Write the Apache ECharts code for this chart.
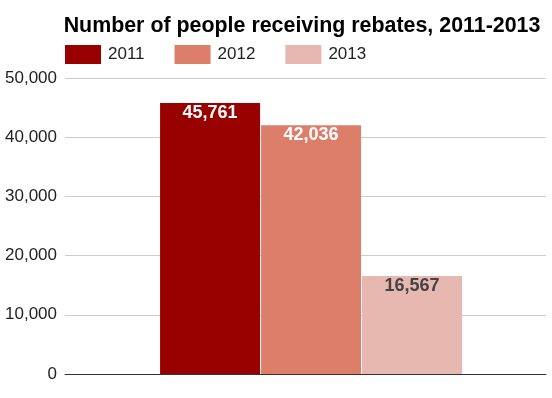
<!DOCTYPE html>
<html>
<head>
<meta charset="utf-8">
<script src="https://cdn.jsdelivr.net/npm/echarts@6/dist/echarts.min.js"></script>
<style>
  html, body { margin: 0; padding: 0; background: #fff; }
  #main { width: 552px; height: 398px; }
</style>
</head>
<body>
<div id="main"></div>
<script>
var categories = [''];
var seriesNames = ['2011', '2012', '2013'];
var values2011 = [45761];
var values2012 = [42036];
var values2013 = [16567];
var yTicks = [0, 10000, 20000, 30000, 40000, 50000];

var colorList = ['#990000', '#dd7e6b', '#e6b8af'];
var labelColors = ['#ffffff', '#ffffff', '#444444'];
var allValues = [values2011, values2012, values2013];

function fmt(v) {
  return v.toString().replace(/\B(?=(\d{3})+(?!\d))/g, ',');
}

var myChart = echarts.init(document.getElementById('main'));

// empty narrow slot so the bar group sits a bit right of centre, as in the original
var series = [{
  name: 'pad',
  type: 'bar',
  data: [null],
  barWidth: 11,
  barGap: '1%',
  silent: true
}];
for (var i = 0; i < seriesNames.length; i++) {
  series.push({
    name: seriesNames[i],
    type: 'bar',
    data: allValues[i],
    barWidth: 100,
    barGap: '1%',
    itemStyle: { color: colorList[i] },
    label: {
      show: true,
      position: 'insideTop',
      distance: 1,
      color: labelColors[i],
      fontFamily: 'Liberation Sans',
      fontWeight: 'bold',
      fontSize: 18,
      formatter: function (p) { return fmt(p.value); }
    }
  });
}

var option = {
  animation: false,
  title: {
    text: 'Number of people receiving rebates, 2011-2013',
    left: 297,
    top: 11,
    textAlign: 'center',
    textStyle: {
      fontFamily: 'Liberation Sans',
      fontWeight: 'bold',
      fontSize: 21.4,
      color: '#000'
    }
  },
  legend: {
    data: seriesNames,
    left: 65,
    top: 45,
    padding: 0,
    itemWidth: 36,
    itemHeight: 19,
    itemGap: 30,
    icon: 'rect',
    textStyle: {
      fontFamily: 'Liberation Sans',
      fontSize: 17,
      color: '#222',
      padding: [0, 0, 0, 2]
    }
  },
  grid: {
    left: 65,
    right: 6,
    top: 78,
    bottom: 24,
    containLabel: false
  },
  xAxis: {
    type: 'category',
    data: categories,
    axisLine: { lineStyle: { color: '#333', width: 1 } },
    axisTick: { show: false },
    axisLabel: { show: false }
  },
  yAxis: {
    type: 'value',
    min: yTicks[0],
    max: yTicks[yTicks.length - 1],
    interval: yTicks[1] - yTicks[0],
    axisLine: { show: false },
    axisTick: { show: false },
    splitLine: { lineStyle: { color: '#cccccc' } },
    axisLabel: {
      margin: 8,
      fontFamily: 'Liberation Sans',
      fontSize: 17,
      color: '#222',
      formatter: function (v) { return fmt(v); }
    }
  },
  series: series
};
myChart.setOption(option);
</script>
</body>
</html>
